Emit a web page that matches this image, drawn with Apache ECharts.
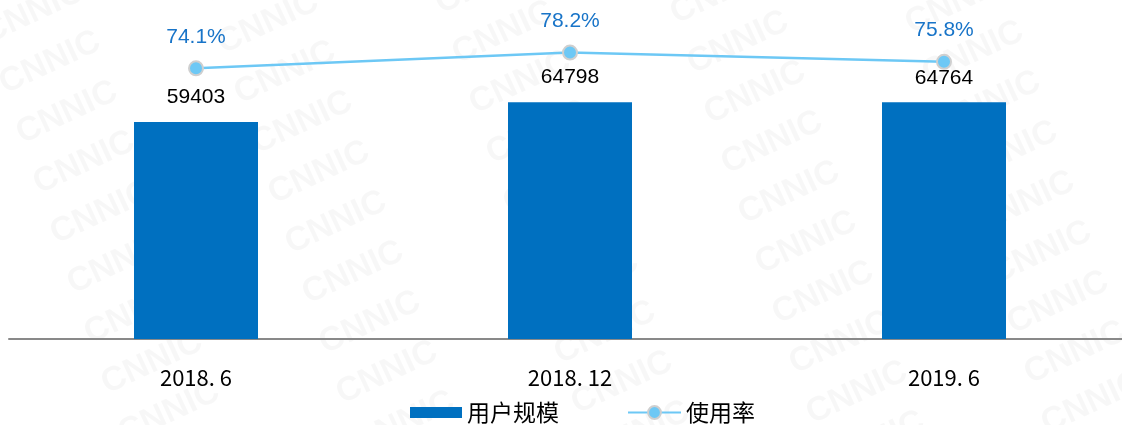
<!DOCTYPE html>
<html>
<head>
<meta charset="utf-8">
<script src="https://cdn.jsdelivr.net/npm/echarts@6/dist/echarts.min.js"></script>
<style>
  html, body { margin: 0; padding: 0; background: #fff; }
  #chart { width: 1122px; height: 425px; }
</style>
</head>
<body>
<div id="chart"></div>
<script>
// Periods on the category axis
const periods = ['2018. 6', '2018. 12', '2019. 6'];
// User scale (万人)
const userScale = [59403, 64798, 64764];
// Usage rate (%)
const usageRate = [74.1, 78.2, 75.8];
const legendNames = ['用户规模', '使用率'];

// Faint repeating "CNNIC" marks in the background
const marks = [];
for (let i = -2; i < 12; i++) {
  for (let j = -1; j < 6; j++) {
    marks.push({
      type: 'text',
      z: 0,
      silent: true,
      x: -40 + j * 235 + i * 17,
      y: -30 + i * 50 + j * 10,
      rotation: 25 * Math.PI / 180,
      style: {
        text: 'CNNIC',
        fill: 'rgba(0,0,0,0.032)',
        font: 'bold 34px "Liberation Sans", Arial, sans-serif'
      }
    });
  }
}

const legendText = {
  fontSize: 23,
  color: '#000',
  fontFamily: '"Noto Sans CJK SC", sans-serif'
};

const chart = echarts.init(document.getElementById('chart'));
chart.setOption({
  animation: false,
  backgroundColor: '#fff',
  graphic: { elements: marks },
  legend: [
    {
      data: [{ name: legendNames[0], icon: 'rect' }],
      left: 410,
      top: 401,
      padding: 0,
      itemWidth: 52,
      itemHeight: 11,
      textStyle: legendText
    },
    {
      data: [legendNames[1]],
      left: 627,
      top: 401,
      padding: 0,
      itemWidth: 53,
      itemHeight: 16,
      textStyle: legendText
    }
  ],
  grid: { left: 9, top: 20, width: 1122, height: 319, outerBoundsMode: 'none', containLabel: false },
  xAxis: {
    type: 'category',
    data: periods,
    axisLine: { lineStyle: { color: '#898989', width: 2 } },
    axisTick: { show: false },
    axisLabel: {
      margin: 28,
      fontSize: 22,
      color: '#000',
      fontFamily: '"Noto Sans CJK SC", sans-serif'
    }
  },
  yAxis: [
    { type: 'value', show: false, min: 0, max: 87280, splitLine: { show: false } },
    { type: 'value', show: false, min: 3.42, max: 86.71, splitLine: { show: false } }
  ],
  series: [
    {
      name: legendNames[0],
      type: 'bar',
      data: userScale,
      barWidth: 124,
      z: 2,
      itemStyle: { color: '#0070C0' },
      label: {
        show: true,
        position: 'top',
        distance: 14,
        fontSize: 21,
        color: '#000',
        fontFamily: '"Liberation Sans", Arial, sans-serif'
      }
    },
    {
      name: legendNames[1],
      type: 'line',
      yAxisIndex: 1,
      data: usageRate,
      z: 3,
      symbol: 'circle',
      symbolSize: 14,
      lineStyle: { color: '#6DC8F5', width: 2.5 },
      itemStyle: { color: '#6DC8F5', borderColor: '#CFCFCF', borderWidth: 2 },
      label: {
        show: true,
        position: 'top',
        distance: 13,
        formatter: '{c}%',
        fontSize: 21,
        color: '#1874C8',
        fontFamily: '"Liberation Sans", Arial, sans-serif'
      }
    }
  ]
});
</script>
</body>
</html>
